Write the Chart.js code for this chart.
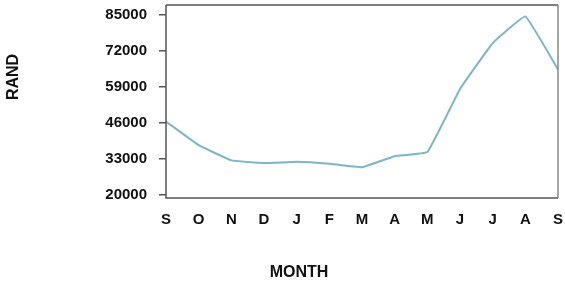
<!DOCTYPE html>
<html>
<head>
<meta charset="utf-8">
<script src="https://cdn.jsdelivr.net/npm/chart.js@4"></script>
<style>
  html, body { margin: 0; padding: 0; background: #fff; }
  #chart { display: block; }
</style>
</head>
<body>
<canvas id="chart" width="565" height="293"></canvas>
<script>
// Monthly values in rand, Sept through Sept
const months = ['S', 'O', 'N', 'D', 'J', 'F', 'M', 'A', 'M', 'J', 'J', 'A', 'S'];
const randValues = [46500, 38000, 32500, 31500, 32000, 31300, 30000, 34000, 35500, 58300, 74800, 84500, 65300];
const yTicks = [20000, 33000, 46000, 59000, 72000, 85000];

const fontFamily = '"Liberation Sans", Arial, sans-serif';

// axis titles and frame drawn by hand so they sit where the original had them
const framePlugin = {
    id: 'frame',
    afterDraw(chart) {
        const ctx = chart.ctx;
        const a = chart.chartArea;
        ctx.save();
        ctx.lineWidth = 1.5;
        ctx.strokeStyle = '#555';
        ctx.beginPath();
        ctx.moveTo(a.left, a.top);
        ctx.lineTo(a.right, a.top);
        ctx.moveTo(a.left, a.top);
        ctx.lineTo(a.left, a.bottom);
        ctx.lineTo(a.right, a.bottom);
        ctx.stroke();
        ctx.strokeStyle = '#888';
        ctx.beginPath();
        ctx.moveTo(a.right, a.top);
        ctx.lineTo(a.right, a.bottom);
        ctx.stroke();

        ctx.fillStyle = '#111';
        ctx.font = 'bold 16px ' + fontFamily;
        ctx.textAlign = 'center';
        ctx.textBaseline = 'middle';
        ctx.fillText('MONTH', 299, 273);
        ctx.translate(14, 77);
        ctx.rotate(-Math.PI / 2);
        ctx.fillText('RAND', 0, 0);
        ctx.restore();
    }
};

new Chart(document.getElementById('chart'), {
    type: 'line',
    data: {
        labels: months,
        datasets: [{
            data: randValues,
            borderColor: '#7db7c7',
            borderWidth: 2,
            pointRadius: 0,
            tension: 0.08,
            fill: false
        }]
    },
    options: {
        responsive: false,
        animation: false,
        layout: { padding: { top: 5, right: 7, left: 0, bottom: 0 } },
        plugins: { legend: { display: false }, tooltip: { enabled: false } },
        scales: {
            x: {
                type: 'category',
                offset: false,
                border: { display: false },
                grid: { display: false, drawTicks: false },
                ticks: {
                    color: '#111',
                    padding: 13,
                    maxRotation: 0,
                    autoSkip: false,
                    font: { family: fontFamily, size: 15, weight: 'bold' }
                },
                afterFit(scale) {
                    scale.height = 95;
                    scale.paddingLeft = 0;
                    scale.paddingRight = 0;
                }
            },
            y: {
                min: 18900,
                max: 88600,
                border: { display: false },
                grid: { drawOnChartArea: false, tickLength: 7, color: '#555', lineWidth: 1.5 },
                ticks: {
                    color: '#111',
                    padding: 12,
                    font: { family: fontFamily, size: 15, weight: 'bold' },
                    callback: v => String(v)
                },
                afterBuildTicks(scale) {
                    scale.ticks = yTicks.map(v => ({ value: v }));
                },
                afterFit(scale) {
                    scale.width = 166;
                    scale.paddingTop = 0;
                    scale.paddingBottom = 0;
                }
            }
        }
    },
    plugins: [framePlugin]
});
</script>
</body>
</html>
